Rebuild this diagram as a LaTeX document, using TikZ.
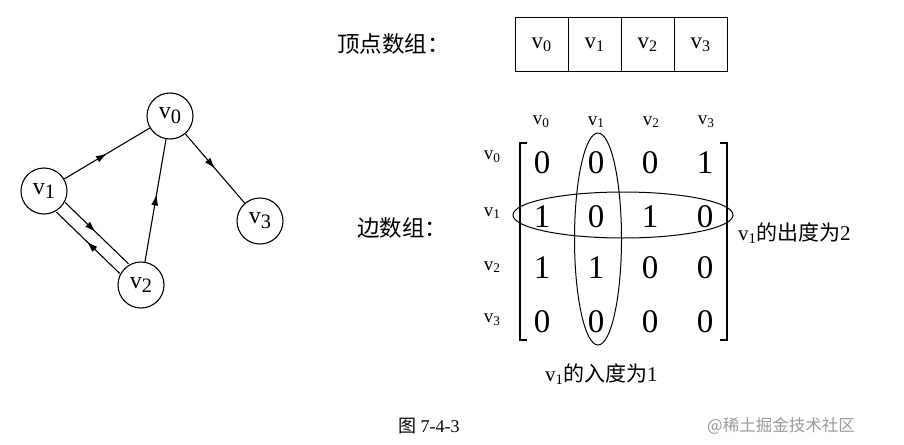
\documentclass[tikz,border=0pt]{standalone}
\usepackage{fontspec}
\setmainfont{Liberation Serif}
\newfontfamily\cjk{Noto Sans CJK SC}
\usetikzlibrary{decorations.markings,arrows.meta,shapes.geometric}
\newcommand{\gv}[1]{v\raisebox{-0.45ex}{\scalebox{0.85}{#1}}}
\newcommand{\sv}[1]{v\raisebox{-0.3ex}{\scalebox{0.7}{#1}}}
\begin{document}
\begin{tikzpicture}[x=1pt,y=-1pt,
  vert/.style={circle,draw,line width=1.1pt,minimum size=46pt,inner sep=0pt,font=\fontsize{24}{24}\selectfont},
  edge/.style={line width=1.1pt},
  midarrow/.style={postaction={decorate},decoration={markings,mark=at position #1 with {\arrow{Latex[length=11pt,width=7pt]}}}},
  midarrow/.default=0.5,
  cell/.style={draw,line width=1pt,minimum width=53pt,minimum height=53pt,inner sep=0pt,font=\fontsize{23}{23}\selectfont},
  hdr/.style={font=\fontsize{19}{19}\selectfont,inner sep=0pt},
  ent/.style={font=\fontsize{33}{33}\selectfont,inner sep=0pt},
  zh/.style={font=\cjk\fontsize{22.5}{22.5}\selectfont,inner sep=0pt},
  note/.style={font=\fontsize{21}{21}\selectfont,inner sep=0pt},
  ring/.style={draw,ellipse,line width=1pt,inner sep=0pt},
  brk/.style={line width=1.3pt}]
\useasboundingbox (0,0) rectangle (904,444);
% graph
\node[vert] (v0) at (170,116) {\gv{0}};
\node[vert] (v1) at (44,191) {\gv{1}};
\node[vert] (v2) at (141,285) {\gv{2}};
\node[vert] (v3) at (260,221) {\gv{3}};
\draw[edge,midarrow] (v1) -- (v0);
\draw[edge,midarrow] (v0) -- (v3);
\draw[edge,midarrow=0.55] (v2) -- (v0);
\draw[edge,midarrow=0.48,transform canvas={shift={(4.4,-4.8)}}] (v1) -- (v2);
\draw[edge,midarrow=0.52,transform canvas={shift={(-4.4,4.8)}}] (v2) -- (v1);
% vertex array
\node[zh,anchor=west] (lva) at (337,44) {顶点数组：};
\node[cell] (c0) at (541.5,44.5) {\sv{0}};
\node[cell] (c1) at (594.5,44.5) {\sv{1}};
\node[cell] (c2) at (647.5,44.5) {\sv{2}};
\node[cell] (c3) at (700.5,44.5) {\sv{3}};
% edge array
\node[zh,anchor=west] (lea) at (357,228) {边数组：};
\node[hdr] (h0) at (541,122) {\sv{0}};
\node[hdr] (h1) at (596,122) {\sv{1}};
\node[hdr] (h2) at (651,122) {\sv{2}};
\node[hdr] (h3) at (706,122) {\sv{3}};
\node[hdr] (r0) at (492,157) {\sv{0}};
\node[hdr] (r1) at (492,213) {\sv{1}};
\node[hdr] (r2) at (492,267) {\sv{2}};
\node[hdr] (r3) at (492,320) {\sv{3}};
\node[ent] (m00) at (542,163) {0};
\node[ent] (m01) at (596,163) {0};
\node[ent] (m02) at (650,163) {0};
\node[ent] (m03) at (705,163) {1};
\node[ent] (m10) at (542,217) {1};
\node[ent] (m11) at (596,217) {0};
\node[ent] (m12) at (650,217) {1};
\node[ent] (m13) at (705,217) {0};
\node[ent] (m20) at (542,268) {1};
\node[ent] (m21) at (596,268) {1};
\node[ent] (m22) at (650,268) {0};
\node[ent] (m23) at (705,268) {0};
\node[ent] (m30) at (542,322) {0};
\node[ent] (m31) at (596,322) {0};
\node[ent] (m32) at (650,322) {0};
\node[ent] (m33) at (705,322) {0};
\draw[brk] (527,143) -- (520,143) -- (520,340) -- (527,340);
\draw[brk] (720,143) -- (727,143) -- (727,340) -- (720,340);
\node[ring,minimum width=47pt,minimum height=212pt] (colring) at (598,239) {};
\node[ring,minimum width=220pt,minimum height=46pt] (rowring) at (623,215) {};
\node[note,anchor=west] (outdeg) at (738,233) {\sv{1}{\cjk 的出度为}2};
\node[note,anchor=west] (indeg) at (545,374) {\sv{1}{\cjk 的入度为}1};
% caption
\node[anchor=west,inner sep=0pt,font=\fontsize{18}{18}\selectfont] (cap) at (398,426) {{\cjk 图} 7-4-3};
\node[anchor=west,inner sep=0pt,text=black!40,font=\cjk\fontsize{16.5}{16.5}\selectfont] (wm) at (707,426) {@稀土掘金技术社区};
\end{tikzpicture}
\end{document}
